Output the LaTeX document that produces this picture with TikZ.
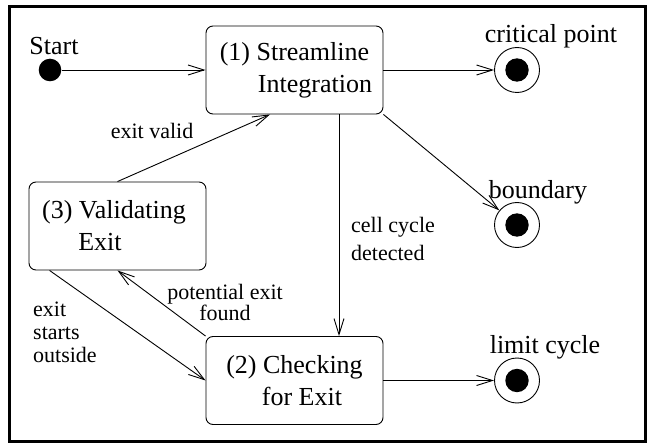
\documentclass[tikz,border=0pt]{standalone}
\usepackage{fontspec}
\setmainfont{Liberation Serif}
\usetikzlibrary{arrows.meta}
\begin{document}
\begin{tikzpicture}[x=1pt,y=-1pt,
  statebox/.style={draw, rounded corners=7pt, minimum width=177pt, minimum height=88pt, line width=0.9pt, align=center, font=\fontsize{26}{32}\selectfont, inner sep=0pt},
  finalstate/.style={circle, draw, minimum size=45pt, inner sep=0pt, line width=0.9pt, path picture={\fill (path picture bounding box.center) circle (11.7pt);}},
  initialstate/.style={circle, fill, minimum size=22.6pt, inner sep=0pt},
  biglabel/.style={font=\fontsize{26}{32}\selectfont, inner sep=0pt},
  translabel/.style={font=\fontsize{22}{23}\selectfont, inner sep=0pt},
  trans/.style={-{Straight Barb[length=16pt,width=10pt]}, line width=0.9pt},
]
\useasboundingbox (0,0) rectangle (649,444);
\draw[line width=2.5pt] (9.5,6.5) rectangle (645.5,441.5);

\node[initialstate] (start) at (50,70) {};
\node[biglabel, anchor=base] (startlbl) at (54,55) {Start};

\node[statebox] (s1) at (294.5,70) {(1) Streamline\\\hspace*{41pt}Integration};
\node[statebox] (s2) at (294.5,380.5) {(2) Checking\\\hspace*{15pt}for Exit};
\node[statebox] (s3) at (117.5,226) {\raisebox{2pt}{(3) Validating}\hspace*{7pt}\\\raisebox{2pt}{Exit}\hspace*{35pt}};

\node[finalstate] (cp) at (517,70) {};
\node[biglabel, anchor=base] (cplbl) at (551,43) {critical point};
\node[finalstate] (bd) at (517,225) {};
\node[biglabel, anchor=base] (bdlbl) at (538,198) {boundary};
\node[finalstate] (lc) at (517,380.5) {};
\node[biglabel, anchor=base] (lclbl) at (545,353) {limit cycle};

\draw[trans] (start) -- (s1);
\draw[trans] (s1) -- (cp);
\draw[trans] (s1.south east) -- (bd);
\draw[trans] ([xshift=44.5pt]s1.south) -- ([xshift=44.5pt]s2.north);
\draw[trans] (s2) -- (lc);
\draw[trans] (s3.north) -- ([xshift=-24.5pt]s1.south);
\draw[trans] (s2.north west) -- (s3.south);
\draw[trans] ([xshift=21pt]s3.south west) -- (s2.west);

\node[translabel, anchor=base] (l1) at (152,139) {exit valid};
\node[translabel, anchor=north west, align=left] (l2) at (351,217) {cell cycle\\[5pt]detected};
\node[translabel, anchor=north, align=center, font=\fontsize{22}{21}\selectfont] (l3) at (225,284) {potential exit\\found};
\node[translabel, anchor=north west, align=left] (l4) at (33,302) {exit\\starts\\outside};
\end{tikzpicture}
\end{document}
